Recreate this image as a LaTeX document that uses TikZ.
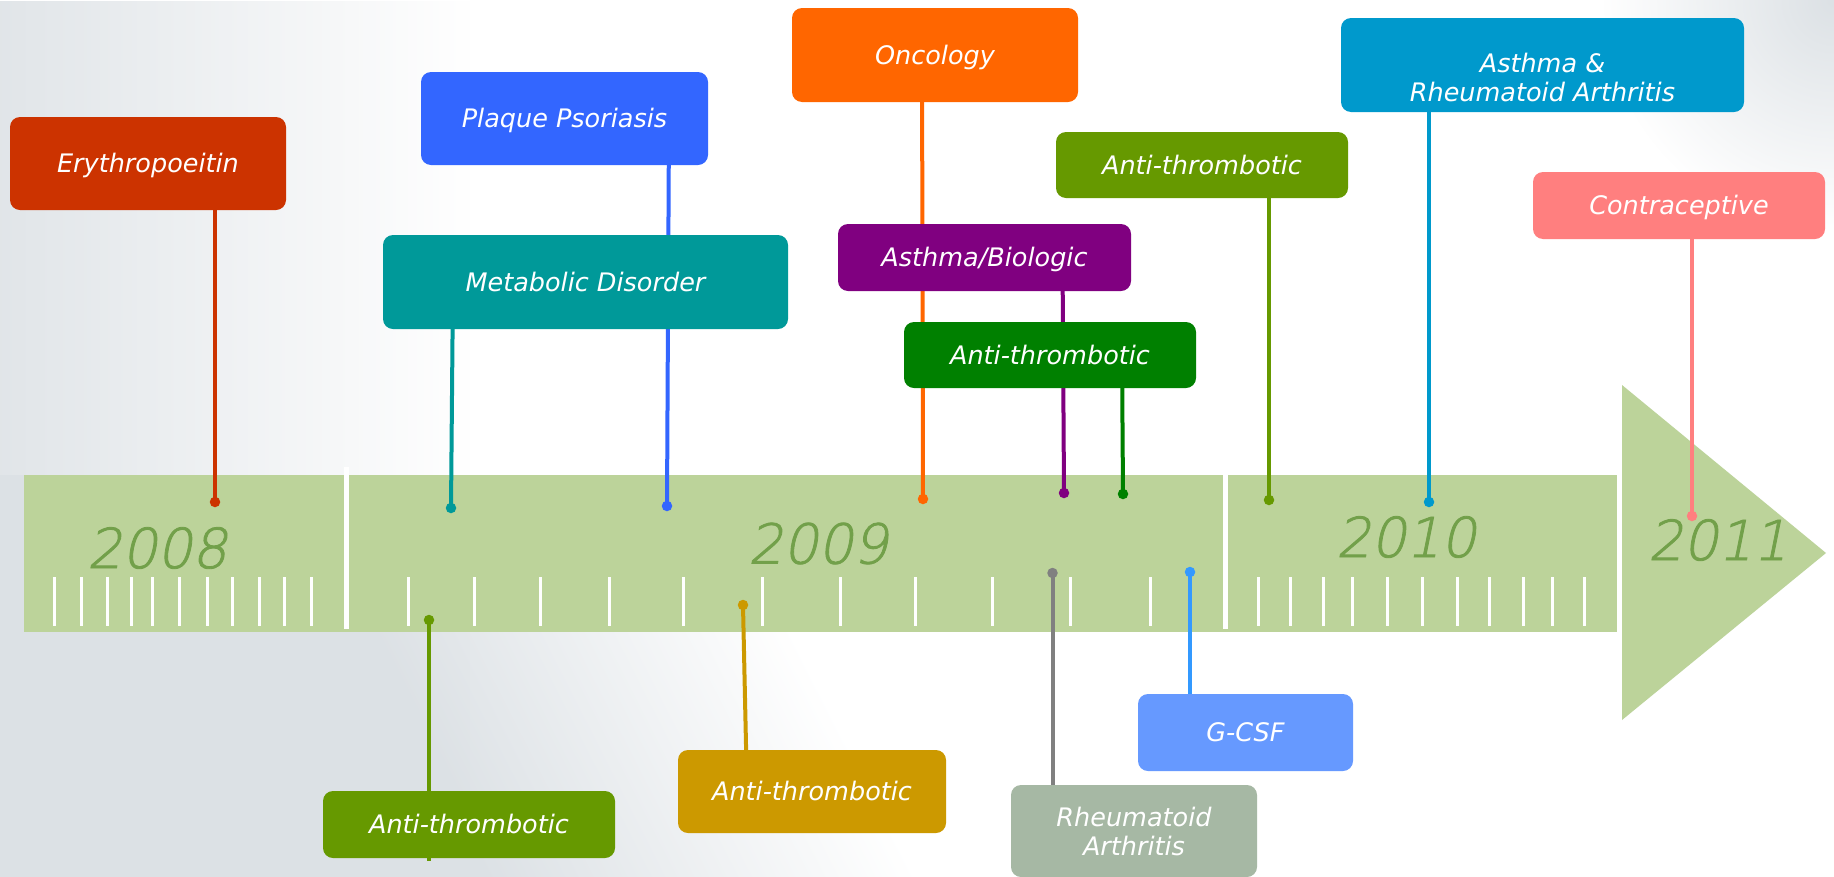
\documentclass[tikz,border=0pt]{standalone}
\usepackage{fontspec}
\setmainfont{DejaVu Sans}
\newfontfamily\thinfam[FakeSlant=0.2,FakeBold=1.5]{DejaVu Sans ExtraLight}
\usetikzlibrary{fadings}
\newcommand{\bxfont}{\itshape\fontsize{25.5}{29}\selectfont}
\newcommand{\yrfont}{\thinfam\fontsize{55}{60}\selectfont}
\definecolor{bgc}{HTML}{DCE1E5}
\definecolor{bandc}{HTML}{BCD39A}
\definecolor{yearc}{HTML}{72A04A}
\definecolor{cEry}{HTML}{CC3300}
\definecolor{cPla}{HTML}{3366FF}
\definecolor{cMet}{HTML}{009999}
\definecolor{cOnc}{HTML}{FF6600}
\definecolor{cAsb}{HTML}{800080}
\definecolor{cAtg}{HTML}{008000}
\definecolor{cAto}{HTML}{669900}
\definecolor{cAra}{HTML}{0099CC}
\definecolor{cCon}{HTML}{FF7F7F}
\definecolor{cAtd}{HTML}{CC9900}
\definecolor{cRhe}{HTML}{A6B8A4}
\definecolor{cRheS}{HTML}{808080}
\definecolor{cGcs}{HTML}{6699FF}
\definecolor{cGcsS}{HTML}{3399FF}
\tikzfading[name=fadeR, left color=transparent!0, right color=transparent!100]
\tikzfading[name=radF, inner color=transparent!0, outer color=transparent!100]
\pgfdeclarehorizontalshading{diagsh}{100bp}{color(0bp)=(bgc); color(41bp)=(bgc); color(63bp)=(white); color(100bp)=(white)}
\pgfdeclarelayer{bglayer}
\pgfdeclarelayer{stemlayer}
\pgfsetlayers{bglayer,stemlayer,main}
\begin{document}
\begin{tikzpicture}[x=1pt,y=-1pt,
  stem/.style={line width=4pt},
  dotn/.style={circle, inner sep=0pt, minimum size=10.5pt},
  boxbase/.style={rounded corners=10pt, inner sep=0pt, text=white, align=center, font=\bxfont},
  box/.style={boxbase, text height=18.8pt, text depth=0pt},
  tickm/.style={white, line width=3pt},
  sepl/.style={white, line width=5pt},
  year/.style={inner sep=0pt, text=yearc, font=\yrfont}
]
\useasboundingbox (0,0) rectangle (1834,876);
\begin{pgfonlayer}{bglayer}
\fill[white] (0,0) rectangle (1834,876);
\shade[shading=diagsh, shading angle=27] (0,475) rectangle (1120,876);
\fill[bgc, path fading=fadeR, fill opacity=0.85] (0,0) rectangle (470,876);
\fill[bgc, path fading=radF] (1834,0) circle (230);
% band and arrow
\fill[bandc] (24,475) rectangle (1617,632);
\fill[bandc] (1622,385) -- (1826,553) -- (1622,720) -- cycle;
% separators
\draw[sepl] (346,467) -- (346,629);
\draw[sepl] (1225,475) -- (1225,629);
% ticks
\foreach \t in {54,81.6,107.4,131.5,152.6,179,207,232.4,259.4,284,311.6,
                408,474,540,609,683,762,840,915,992,1070,1150,
                1258.5,1290,1323,1352,1387,1422,1457.4,1489,1523.7,1552,1584}
  \draw[tickm] (\t,577) -- (\t,626);
\end{pgfonlayer}
% years
\node[year] (y08) at (157,548) {2008};
\node[year] (y09) at (818,543.5) {2009};
\node[year] (y10) at (1406,537) {2010};
\node[year] (y11) at (1718,540) {2011};
% boxes
\node[box, fill=cEry, minimum width=276pt, minimum height=93pt] (ery) at (148,163.5) {Erythropoeitin};
\node[box, fill=cPla, minimum width=287pt, minimum height=93pt] (pla) at (564.5,118.5) {Plaque Psoriasis};
\node[box, fill=cMet, minimum width=405pt, minimum height=94pt] (met) at (585.5,282) {Metabolic Disorder};
\node[box, fill=cOnc, minimum width=286pt, minimum height=94pt] (onc) at (935,55) {Oncology};
\node[box, fill=cAsb, minimum width=293pt, minimum height=67pt] (asb) at (984.5,257.5) {Asthma/Biologic};
\node[box, fill=cAtg, minimum width=292pt, minimum height=66pt] (atg) at (1050,355) {Anti-thrombotic};
\node[box, fill=cAto, minimum width=292pt, minimum height=66pt] (ato) at (1202,165) {Anti-thrombotic};
\node[boxbase, fill=cAra, minimum width=403pt, minimum height=94pt] (ara) at (1542.5,65) {};
\node[boxbase, fill=none] (araT) at (1542.5,77.5) {Asthma \&\\Rheumatoid Arthritis};
\node[box, fill=cCon, minimum width=292pt, minimum height=67pt] (con) at (1679,205.5) {Contraceptive};
\node[box, fill=cAto, minimum width=292pt, minimum height=67pt] (atl) at (469,824.5) {Anti-thrombotic};
\node[box, fill=cAtd, minimum width=268pt, minimum height=83pt] (atd) at (812,791.5) {Anti-thrombotic};
\node[boxbase, fill=cRhe, minimum width=246pt, minimum height=92pt] (rhe) at (1134,831) {Rheumatoid\\Arthritis};
\node[box, fill=cGcs, minimum width=215pt, minimum height=77pt] (gcs) at (1245.5,732.5) {G-CSF};
% dots
\node[dotn, fill=cEry] (eryD) at (215,502) {};
\node[dotn, fill=cPla] (plaD) at (667,506) {};
\node[dotn, fill=cMet] (metD) at (451,508) {};
\node[dotn, fill=cOnc] (oncD) at (923,499) {};
\node[dotn, fill=cAsb] (asbD) at (1064,493) {};
\node[dotn, fill=cAtg] (atgD) at (1123,494) {};
\node[dotn, fill=cAto] (atoD) at (1269,500) {};
\node[dotn, fill=cAra] (araD) at (1429,502) {};
\node[dotn, fill=cCon] (conD) at (1692,516) {};
\node[dotn, fill=cAto] (atlD) at (429,620) {};
\node[dotn, fill=cAtd] (atdD) at (743,605) {};
\node[dotn, fill=cRheS] (rheD) at (1052.5,573) {};
\node[dotn, fill=cGcsS] (gcsD) at (1190,572) {};
% stems
\begin{pgfonlayer}{stemlayer}
\draw[stem, cEry] (ery.center -| eryD) -- (eryD.center);
\draw[stem, cPla] ([xshift=2pt]pla.center -| plaD) -- (plaD.center);
\draw[stem, cMet] ([xshift=2pt]met.center -| metD) -- (metD.center);
\draw[stem, cOnc] ([xshift=-1pt]onc.center -| oncD) -- (oncD.center);
\draw[stem, cAsb] ([xshift=-1.5pt]asb.center -| asbD) -- (asbD.center);
\draw[stem, cAtg] ([xshift=-1pt]atg.center -| atgD) -- (atgD.center);
\draw[stem, cAto] (ato.center -| atoD) -- (atoD.center);
\draw[stem, cAra] (ara.center -| araD) -- (araD.center);
\draw[stem, cCon] (con.center -| conD) -- (conD.center);
\draw[stem, cAto] (atlD.center) -- ([yshift=-3pt]atl.south -| atlD);
\draw[stem, cAtd] (atdD.center) -- ([xshift=4pt]atd.center -| atdD);
\draw[stem, cRheS] (rheD.center) -- (rhe.center -| rheD);
\draw[stem, cGcsS] (gcsD.center) -- (gcs.center -| gcsD);
\end{pgfonlayer}
\end{tikzpicture}
\end{document}
